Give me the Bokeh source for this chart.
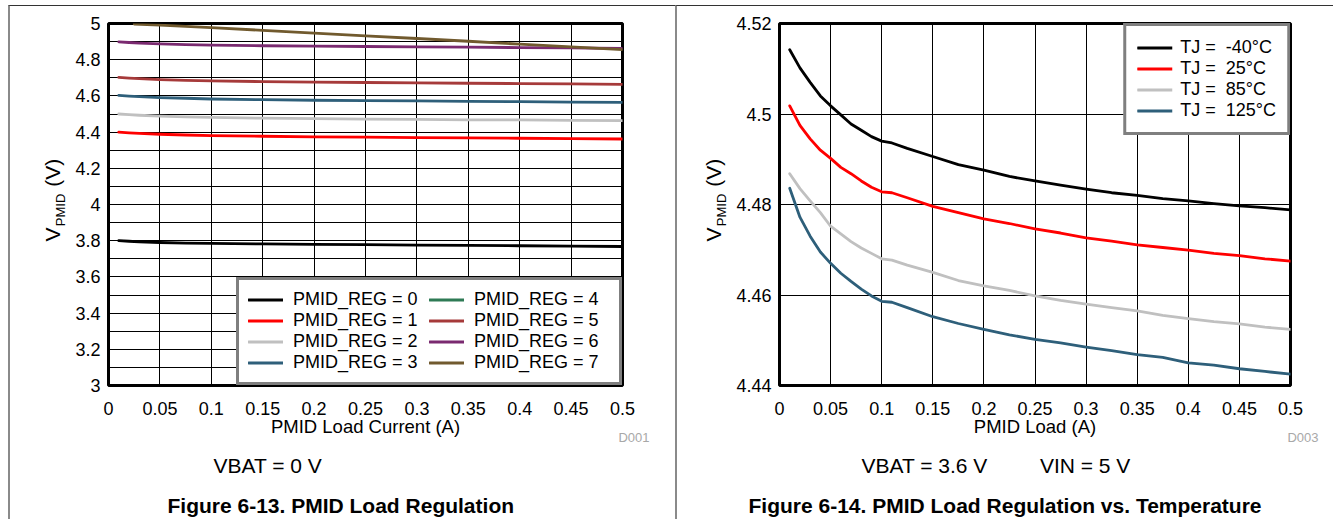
from bokeh.plotting import figure
from bokeh.layouts import row
from bokeh.models import (Legend, LegendItem, Title, FixedTicker, Range1d,
                          CustomJSTickFormatter)
from bokeh.embed import file_html
from bokeh.resources import INLINE

# ---------------- data : Figure 6-13 ----------------
load_a = [0.01, 0.02, 0.03, 0.05, 0.075, 0.1, 0.15, 0.2, 0.25, 0.3, 0.35, 0.4, 0.45, 0.5]
reg0 = [3.800, 3.797, 3.794, 3.790, 3.787, 3.785, 3.782, 3.780, 3.778, 3.776, 3.774, 3.772, 3.770, 3.768]
reg1 = [4.400, 4.396, 4.393, 4.388, 4.384, 4.381, 4.377, 4.374, 4.372, 4.370, 4.368, 4.366, 4.364, 4.362]
reg2 = [4.500, 4.496, 4.493, 4.488, 4.484, 4.481, 4.477, 4.474, 4.472, 4.470, 4.468, 4.467, 4.465, 4.463]
reg3 = [4.603, 4.599, 4.596, 4.591, 4.587, 4.583, 4.579, 4.576, 4.574, 4.572, 4.570, 4.568, 4.566, 4.564]
reg4_x = [float("nan")]          # PMID_REG = 4 : no curve visible in the chart
reg4 = [float("nan")]
reg5 = [4.702, 4.698, 4.695, 4.690, 4.686, 4.683, 4.679, 4.676, 4.674, 4.672, 4.670, 4.668, 4.666, 4.664]
reg6 = [4.899, 4.895, 4.892, 4.887, 4.883, 4.880, 4.877, 4.875, 4.873, 4.871, 4.869, 4.867, 4.865, 4.862]
reg7_x = [0.025, 0.05, 0.1, 0.15, 0.2, 0.25, 0.3, 0.35, 0.4, 0.45, 0.5]
reg7 = [4.997, 4.991, 4.977, 4.962, 4.947, 4.932, 4.917, 4.902, 4.886, 4.871, 4.856]
reg_labels = ["PMID_REG = 0", "PMID_REG = 1", "PMID_REG = 2", "PMID_REG = 3",
              "PMID_REG = 4", "PMID_REG = 5", "PMID_REG = 6", "PMID_REG = 7"]
left_xticks = [0, 0.05, 0.1, 0.15, 0.2, 0.25, 0.3, 0.35, 0.4, 0.45, 0.5]
left_yticks = [3, 3.2, 3.4, 3.6, 3.8, 4, 4.2, 4.4, 4.6, 4.8, 5]
left_ygrid = [3, 3.1, 3.2, 3.3, 3.4, 3.5, 3.6, 3.7, 3.8, 3.9, 4, 4.1, 4.2, 4.3, 4.4,
              4.5, 4.6, 4.7, 4.8, 4.9, 5]

# ---------------- data : Figure 6-14 ----------------
load_t = [0.01, 0.02, 0.03, 0.04, 0.05, 0.06, 0.07, 0.08, 0.09, 0.10, 0.11, 0.125,
          0.15, 0.175, 0.2, 0.225, 0.25, 0.275, 0.3, 0.325, 0.35, 0.375, 0.4,
          0.425, 0.45, 0.475, 0.5]
tj_m40 = [4.5142, 4.5102, 4.5070, 4.5040, 4.5018, 4.4998, 4.4978, 4.4964, 4.4950,
          4.4940, 4.4936, 4.4924, 4.4906, 4.4888, 4.4876, 4.4862, 4.4852, 4.4843,
          4.4834, 4.4826, 4.4820, 4.4813, 4.4808, 4.4802, 4.4797, 4.4793, 4.4788]
tj_25 = [4.5018, 4.4975, 4.4945, 4.4920, 4.4902, 4.4882, 4.4868, 4.4852, 4.4838,
         4.4828, 4.4826, 4.4815, 4.4796, 4.4782, 4.4768, 4.4758, 4.4746, 4.4737,
         4.4726, 4.4719, 4.4711, 4.4705, 4.4699, 4.4692, 4.4687, 4.4680, 4.4675]
tj_85 = [4.4868, 4.4835, 4.4808, 4.4782, 4.4752, 4.4735, 4.4718, 4.4704, 4.4692,
         4.4680, 4.4677, 4.4666, 4.4650, 4.4632, 4.4620, 4.4610, 4.4598, 4.4588,
         4.4580, 4.4572, 4.4565, 4.4555, 4.4548, 4.4541, 4.4536, 4.4529, 4.4524]
tj_125 = [4.4836, 4.4772, 4.4730, 4.4695, 4.4670, 4.4648, 4.4630, 4.4613, 4.4598,
          4.4586, 4.4584, 4.4572, 4.4552, 4.4537, 4.4524, 4.4512, 4.4502, 4.4494,
          4.4485, 4.4477, 4.4468, 4.4462, 4.4450, 4.4445, 4.4437, 4.4431, 4.4425]
tj_temps = ["-40°C", "25°C", "85°C", "125°C"]
right_xticks = [0, 0.05, 0.1, 0.15, 0.2, 0.25, 0.3, 0.35, 0.4, 0.45, 0.5]
right_yticks = [4.44, 4.46, 4.48, 4.5, 4.52]

FONT = "Liberation Sans"
BLACK = "#000000"
RED = "#ff0000"
GRAY = "#c0c0c0"
TEAL = "#2e5f7a"
GREEN = "#2e7a55"
BRICK = "#a63a3a"
PURPLE = "#7a2a70"
BROWN = "#715a2e"
FRAME_H = 361
NB = "\u00a0"
LW = 2.8


def title(p, text, side, size, style="normal", color="black", **kw):
    p.add_layout(Title(text=text, text_font=FONT, text_font_size=f"{size}px",
                       text_font_style=style, text_color=color, **kw), side)


def base_fig(frame_w, yr, bl, br, xlabel):
    p = figure(frame_width=frame_w, frame_height=FRAME_H,
               x_range=Range1d(0, 0.5), y_range=Range1d(*yr),
               min_border_left=bl, min_border_right=br,
               min_border_top=17, min_border_bottom=135,
               output_backend="svg", toolbar_location=None,
               background_fill_color="white", border_fill_color="white")
    p.outline_line_color = "black"
    p.outline_line_width = 3
    fmt = CustomJSTickFormatter(code="return tick.toString();")
    for ax in (p.xaxis[0], p.yaxis[0]):
        ax.formatter = fmt
        ax.major_tick_in = 0
        ax.major_tick_out = 0
        ax.minor_tick_in = 0
        ax.minor_tick_out = 0
        ax.axis_line_color = None
        ax.major_label_text_font = FONT
        ax.major_label_text_font_size = "18px"
        ax.major_label_text_color = "black"
    p.xaxis.major_label_standoff = 16
    p.yaxis.major_label_standoff = 8
    # y axis label: subscript part on the axis, the rest as a title beside it
    p.yaxis.axis_label = "PMID" + NB * 3
    p.yaxis.axis_label_text_font = FONT
    p.yaxis.axis_label_text_font_size = "13px"
    p.yaxis.axis_label_text_font_style = "normal"
    p.yaxis.axis_label_text_color = "black"
    p.yaxis.axis_label_standoff = 4
    title(p, "V" + NB * 7 + "(V)", "left", 21, align="left", offset=144,
          standoff=-26, vertical_align="bottom")
    # x axis label as first title below the axis
    title(p, xlabel, "below", 18.5, align="center", standoff=-4, vertical_align="top")
    p.xgrid.grid_line_color = "black"
    p.ygrid.grid_line_color = "black"
    p.xgrid.grid_line_width = 1
    p.ygrid.grid_line_width = 1
    p.styles = {"border-top": "1px solid #333333", "border-left": "2px solid #8a8a8a"}
    return p


# ---------------- left figure ----------------
p1 = base_fig(512, (3, 5), 98, 55, "PMID Load Current (A)")
p1.xaxis.ticker = FixedTicker(ticks=left_xticks)
p1.yaxis.ticker = FixedTicker(ticks=left_yticks)
p1.xgrid.ticker = FixedTicker(ticks=left_xticks)
p1.ygrid.ticker = FixedTicker(ticks=left_ygrid)

series1 = [(load_a, reg0, BLACK), (load_a, reg1, RED), (load_a, reg2, GRAY),
           (load_a, reg3, TEAL), (reg4_x, reg4, GREEN), (load_a, reg5, BRICK),
           (load_a, reg6, PURPLE), (reg7_x, reg7, BROWN)]
items1 = []
for (xs, ys, c), name in zip(series1, reg_labels):
    r = p1.line(xs, ys, line_color=c, line_width=LW, line_join="round", line_cap="round")
    items1.append(LegendItem(label=name, renderers=[r]))

leg1 = Legend(items=items1, location="bottom_right", orientation="vertical",
              nrows=4, ncols=2, margin=0, padding=9, spacing=0,
              glyph_width=35, glyph_height=21, label_height=21, label_width=136,
              label_standoff=10, label_text_font=FONT, label_text_font_size="18px",
              label_text_color="black",
              border_line_color="black", border_line_width=3,
              background_fill_color="white", background_fill_alpha=1.0)
p1.add_layout(leg1)

title(p1, "D001", "below", 13, color="#a8a8a8", align="right", offset=-27,
      standoff=-14, vertical_align="top")
title(p1, "VBAT = 0 V", "below", 21, align="left", offset=105, standoff=29,
      vertical_align="top")
title(p1, "Figure 6-13. PMID Load Regulation", "below", 21, style="bold",
      align="left", offset=59, standoff=1, vertical_align="top")

# ---------------- right figure ----------------
p2 = base_fig(509, (4.44, 4.52), 102, 45, "PMID Load (A)")
p2.xaxis.ticker = FixedTicker(ticks=right_xticks)
p2.yaxis.ticker = FixedTicker(ticks=right_yticks)
p2.xgrid.ticker = FixedTicker(ticks=right_xticks)
p2.ygrid.ticker = FixedTicker(ticks=right_yticks)

series2 = [(tj_m40, BLACK), (tj_25, RED), (tj_85, GRAY), (tj_125, TEAL)]
items2 = []
for (ys, c), t in zip(series2, tj_temps):
    r = p2.line(load_t, ys, line_color=c, line_width=LW, line_join="round", line_cap="round")
    items2.append(LegendItem(label="TJ" + NB + "=" + NB * 2 + t, renderers=[r]))

leg2 = Legend(items=items2, location="top_right", orientation="vertical",
              margin=0, padding=11, spacing=0,
              glyph_width=35, glyph_height=21, label_height=21, label_width=60,
              label_standoff=8, label_text_font=FONT, label_text_font_size="18px",
              label_text_color="black",
              border_line_color="black", border_line_width=3,
              background_fill_color="white", background_fill_alpha=1.0)
p2.add_layout(leg2)

title(p2, "D003", "below", 13, color="#a8a8a8", align="right", offset=-28,
      standoff=-14, vertical_align="top")
title(p2, "VBAT = 3.6 V" + NB * 9 + "VIN = 5 V", "below", 21, align="left",
      offset=82, standoff=29, vertical_align="top")
title(p2, "Figure 6-14. PMID Load Regulation vs. Temperature", "below", 21,
      style="bold", align="left", offset=-31, standoff=1, vertical_align="top")

layout = row(p1, p2, margin=(5, 0, 0, 8))
open("out.html", "w").write(file_html(layout, INLINE))
